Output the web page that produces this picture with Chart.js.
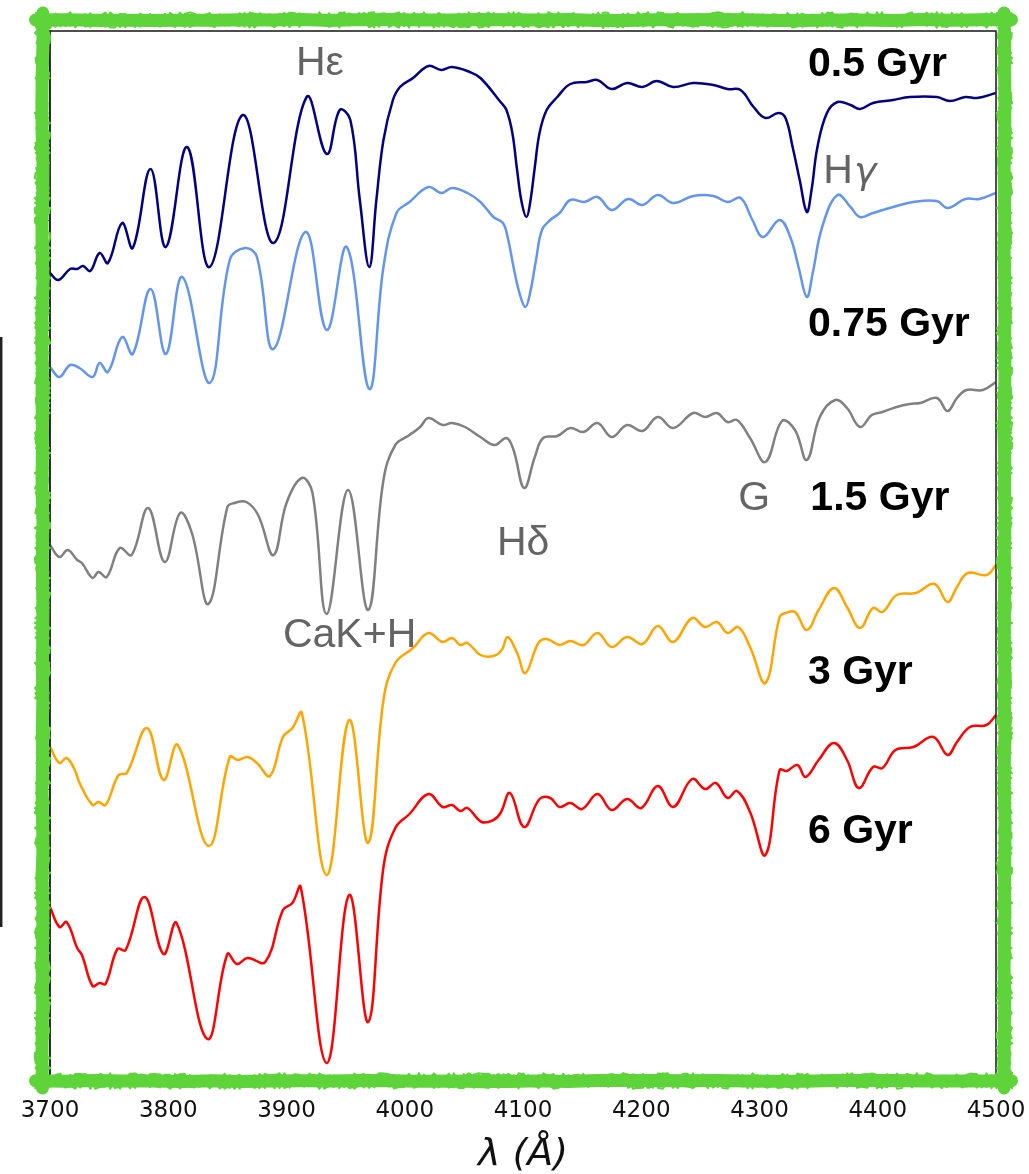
<!DOCTYPE html>
<html>
<head>
<meta charset="utf-8">
<script src="https://cdn.jsdelivr.net/npm/chart.js@4.4.1/dist/chart.umd.min.js"></script>
<style>
  html, body { margin: 0; padding: 0; background: #fff; }
  #wrap { position: relative; width: 1029px; height: 1174px; }
</style>
</head>
<body>
<div id="wrap"><canvas id="spec" width="1029" height="1174"></canvas></div>
<script>
// wavelength (Angstrom) and offset flux for each population age
const wave05 = [3700,3707,3717,3723,3728,3734,3742,3749,3761,3770,3785,3798,3816,3835,3863,3889,3917,3934,3945,3954,3962,3970,3976,3982,3990,3996,4007,4020,4031,4040,4055,4064,4081,4086,4091,4095,4099,4103,4106,4110,4114,4120,4129,4140,4154,4163,4175,4188,4201,4213,4227,4244,4261,4273,4284,4295,4305,4316,4322,4328,4334,4340,4344,4349,4357,4366,4377,4385,4396,4413,4427,4450,4461,4474,4484,4500];
const flux05 = [8.05,7.98,8.09,8.09,8.12,8.07,8.25,8.15,8.55,8.30,9.09,8.31,9.31,8.11,9.63,8.35,9.81,9.24,9.68,9.58,8.78,8.11,8.78,9.38,9.78,9.91,10.00,10.12,10.08,10.11,10.06,10.00,9.76,9.68,9.45,9.08,8.75,8.61,8.75,9.11,9.45,9.68,9.81,9.94,9.96,9.98,9.89,9.95,9.91,9.97,9.91,9.95,9.93,9.89,9.88,9.71,9.60,9.65,9.60,9.31,8.98,8.66,8.88,9.31,9.65,9.76,9.73,9.69,9.75,9.78,9.81,9.81,9.77,9.81,9.80,9.85];

const wave075 = [3700,3708,3717,3725,3736,3742,3749,3761,3770,3785,3798,3812,3835,3852,3865,3875,3889,3916,3934,3951,3970,3982,3993,4004,4020,4031,4040,4053,4064,4075,4083,4087,4092,4097,4102,4106,4111,4116,4123,4131,4140,4152,4163,4175,4189,4201,4214,4227,4244,4261,4273,4284,4294,4303,4317,4326,4333,4340,4345,4353,4366,4377,4385,4396,4413,4430,4450,4459,4474,4486,4500];
const flux075 = [7.11,7.01,7.13,7.10,7.01,7.15,7.06,7.41,7.24,7.89,7.24,8.01,6.95,8.18,8.30,8.21,7.29,8.46,7.48,8.31,6.89,8.11,8.65,8.76,8.91,8.85,8.90,8.85,8.76,8.61,8.55,8.41,8.11,7.85,7.71,7.85,8.18,8.48,8.58,8.65,8.78,8.76,8.81,8.68,8.79,8.73,8.83,8.75,8.82,8.82,8.76,8.80,8.58,8.41,8.58,8.41,8.11,7.81,8.05,8.51,8.83,8.71,8.61,8.65,8.71,8.76,8.77,8.70,8.79,8.79,8.85];

const wave15 = [3700,3708,3715,3723,3727,3736,3741,3748,3759,3769,3783,3797,3810,3820,3834,3850,3856,3866,3876,3889,3900,3913,3922,3934,3952,3969,3982,3992,4004,4013,4020,4032,4040,4051,4064,4076,4086,4092,4101,4110,4117,4129,4140,4151,4163,4175,4188,4201,4214,4227,4244,4254,4264,4273,4281,4292,4305,4319,4330,4340,4351,4364,4374,4385,4395,4404,4416,4427,4436,4450,4459,4467,4475,4489,4500];
const flux15 = [5.33,5.21,5.28,5.18,5.15,5.00,5.06,5.01,5.30,5.23,5.70,5.16,5.65,5.45,4.74,5.71,5.75,5.76,5.63,5.23,5.75,6.00,5.85,4.64,5.88,4.68,5.98,6.33,6.43,6.51,6.60,6.53,6.55,6.51,6.41,6.33,6.40,6.28,5.90,6.21,6.40,6.42,6.50,6.46,6.55,6.41,6.53,6.47,6.61,6.50,6.65,6.61,6.65,6.56,6.58,6.40,6.16,6.57,6.48,6.18,6.61,6.78,6.70,6.51,6.63,6.66,6.71,6.74,6.75,6.80,6.67,6.80,6.88,6.88,6.96];

const wave3 = [3700,3708,3714,3721,3725,3736,3741,3747,3758,3765,3782,3796,3808,3834,3852,3859,3867,3875,3886,3897,3905,3913,3934,3953,3969,3982,3992,4007,4020,4032,4040,4047,4053,4064,4075,4082,4087,4095,4102,4113,4120,4131,4140,4151,4163,4175,4188,4201,4214,4227,4243,4254,4264,4273,4282,4292,4305,4317,4322,4330,4340,4350,4363,4374,4385,4396,4404,4416,4432,4448,4459,4467,4476,4492,4500];
const flux3 = [3.31,3.15,3.20,3.08,2.95,2.73,2.76,2.73,3.03,3.05,3.50,2.98,3.33,2.32,3.21,3.18,3.21,3.15,3.02,3.41,3.50,3.65,2.03,3.58,2.35,3.78,4.15,4.30,4.45,4.36,4.40,4.33,4.35,4.23,4.22,4.28,4.41,4.25,4.05,4.35,4.39,4.33,4.37,4.33,4.45,4.31,4.41,4.34,4.52,4.36,4.60,4.51,4.56,4.45,4.51,4.31,3.95,4.61,4.65,4.66,4.48,4.68,4.90,4.71,4.50,4.70,4.66,4.83,4.85,4.94,4.76,4.91,5.05,5.03,5.13];

const wave6 = [3700,3708,3714,3723,3727,3736,3742,3747,3757,3764,3780,3796,3807,3833,3850,3858,3867,3882,3897,3905,3912,3934,3953,3969,3982,3992,4004,4020,4032,4040,4047,4053,4065,4075,4081,4089,4101,4114,4123,4131,4140,4150,4163,4175,4188,4200,4214,4227,4243,4254,4263,4273,4281,4292,4305,4317,4323,4332,4339,4350,4363,4374,4384,4396,4404,4415,4430,4447,4459,4467,4478,4492,4500];
const flux6 = [1.71,1.51,1.56,1.30,1.23,0.92,0.95,0.94,1.29,1.28,1.81,1.24,1.55,0.39,1.24,1.14,1.20,1.16,1.68,1.75,1.91,0.15,1.83,0.56,2.11,2.50,2.64,2.84,2.71,2.73,2.67,2.70,2.56,2.58,2.65,2.85,2.51,2.79,2.80,2.71,2.75,2.69,2.84,2.68,2.79,2.70,2.92,2.71,2.99,2.89,2.95,2.80,2.87,2.66,2.23,3.08,3.07,3.13,3.01,3.18,3.35,3.18,2.90,3.11,3.10,3.28,3.31,3.41,3.23,3.36,3.51,3.53,3.63];

const ages = ['0.5 Gyr', '0.75 Gyr', '1.5 Gyr', '3 Gyr', '6 Gyr'];
const lineColors = ['#000080', '#6495ed', '#808080', '#ffa500', '#ff0000'];
const waves = [wave05, wave075, wave15, wave3, wave6];
const fluxes = [flux05, flux075, flux15, flux3, flux6];

const xTicks = [3700, 3800, 3900, 4000, 4100, 4200, 4300, 4400, 4500];
const yTicks = [9.10, 8.85, 8.58, 8.26, 7.91, 7.48, 6.95, 6.28, 5.35, 3.73, 3.48, 3.20, 2.89, 2.52, 2.11, 1.59, 0.90];

// text placed in data coordinates (left edge, baseline)
const agePos = [[4341, 10.02], [4341, 7.42], [4343, 5.68], [4341, 3.94], [4341, 2.35]];
const featureNames = ['Hε', 'Hγ', 'Hδ', 'G', 'CaK+H'];
const featurePos = [[3908, 10.03], [4354, 8.95], [4078, 5.23], [4282, 5.68], [3897, 4.31]];

const datasets = ages.map((age, i) => ({
  label: age,
  data: waves[i].map((w, j) => ({ x: w, y: fluxes[i][j] })),
  borderColor: lineColors[i],
  borderWidth: 2.5,
  pointRadius: 0,
  fill: false,
  tension: 0.4
}));

// cheap repeatable wobble for the hand-drawn frame
function wobble(n) {
  const s = Math.sin(n * 12.9898 + 78.233) * 43758.5453;
  return s - Math.floor(s);
}

function roughStroke(ctx, x0, y0, x1, y1, seed, amp, step) {
  const len = Math.hypot(x1 - x0, y1 - y0);
  const n = Math.ceil(len / step);
  const nx = -(y1 - y0) / len, ny = (x1 - x0) / len;
  ctx.beginPath();
  for (let i = 0; i <= n; i++) {
    const t = i / n;
    const off = (wobble(seed + i * 1.7) - 0.5) * 2 * amp;
    const px = x0 + (x1 - x0) * t + nx * off;
    const py = y0 + (y1 - y0) * t + ny * off;
    if (i === 0) ctx.moveTo(px, py); else ctx.lineTo(px, py);
  }
  ctx.stroke();
}

const framePlugin = {
  id: 'frame',
  afterDraw(chart) {
    const { ctx, chartArea: a } = chart;
    ctx.save();
    // axes box
    ctx.strokeStyle = '#222';
    ctx.lineWidth = 1.6;
    ctx.strokeRect(a.left, a.top, a.right - a.left, a.bottom - a.top);
    // stray bar at the far left
    ctx.lineWidth = 2.5;
    ctx.beginPath();
    ctx.moveTo(1.2, 337);
    ctx.lineTo(1.2, 927);
    ctx.stroke();

    // green crayon frame: a solid core plus ragged strokes along the edges
    const L = 42.5, T = 20, R = 1004.5, B = 1081;
    const sides = [[L - 7, T, R + 7, T], [R, T - 7, R, B + 7], [R + 7, B, L - 7, B], [L, B + 7, L, T - 7]];
    ctx.strokeStyle = '#5ed43a';
    ctx.lineCap = 'round';
    ctx.lineJoin = 'round';
    sides.forEach((s, k) => {
      ctx.lineWidth = 13;
      roughStroke(ctx, s[0], s[1], s[2], s[3], k * 100 + 3, 0.6, 30);
      for (let p = 0; p < 6; p++) {
        ctx.lineWidth = 2;
        roughStroke(ctx, s[0], s[1], s[2], s[3], k * 1000 + p * 137 + 11, 7.8, 5);
      }
    });
    ctx.restore();
  }
};

const labelPlugin = {
  id: 'specLabels',
  afterDatasetsDraw(chart) {
    const { ctx, scales: { x, y } } = chart;
    ctx.save();
    ctx.textAlign = 'left';
    ctx.textBaseline = 'alphabetic';
    ctx.fillStyle = '#000';
    ctx.font = 'bold 41px "Liberation Sans", Arial, sans-serif';
    ages.forEach((t, i) => {
      ctx.fillText(t, x.getPixelForValue(agePos[i][0]), y.getPixelForValue(agePos[i][1]));
    });
    ctx.fillStyle = '#646464';
    featureNames.forEach((t, i) => {
      const px = x.getPixelForValue(featurePos[i][0]);
      const py = y.getPixelForValue(featurePos[i][1]);
      ctx.font = '41px "Liberation Sans", Arial, sans-serif';
      if (t === 'Hγ') {
        ctx.fillText('H', px, py);
        const w = ctx.measureText('H').width;
        ctx.font = 'italic 38px "DejaVu Sans", sans-serif';
        ctx.fillText('γ', px + w + 1, py);
      } else {
        ctx.fillText(t, px, py);
      }
    });
    ctx.restore();
  }
};

new Chart(document.getElementById('spec'), {
  type: 'line',
  data: { datasets: datasets },
  options: {
    responsive: false,
    animation: false,
    layout: { padding: { left: 0, top: 31, right: 33, bottom: 0 } },
    plugins: { legend: { display: false }, tooltip: { enabled: false } },
    scales: {
      x: {
        type: 'linear',
        min: 3700,
        max: 4500,
        afterBuildTicks: s => { s.ticks = xTicks.map(v => ({ value: v })); },
        afterFit: s => { s.height = 96; s.paddingLeft = 0; s.paddingRight = 0; },
        ticks: {
          callback: v => String(v),
          font: { family: 'DejaVu Sans', size: 23 },
          color: '#111',
          padding: 13,
          maxRotation: 0,
          autoSkip: false
        },
        grid: { drawOnChartArea: false, tickLength: 6, color: '#222' },
        border: { color: '#222', width: 1.6 },
        title: {
          display: true,
          text: 'λ (Å)',
          font: { family: 'DejaVu Sans', size: 38, style: 'italic', lineHeight: 1.0 },
          color: '#111',
          padding: { top: 0, bottom: 0 }
        }
      },
      y: {
        type: 'linear',
        min: 0,
        max: 10.47,
        afterBuildTicks: s => { s.ticks = yTicks.map(v => ({ value: v })); },
        afterFit: s => { s.width = 50; },
        ticks: { display: false },
        grid: { drawOnChartArea: false, tickLength: 4, color: '#222' },
        border: { color: '#222', width: 1.6 }
      }
    }
  },
  plugins: [labelPlugin, framePlugin]
});
</script>
</body>
</html>
